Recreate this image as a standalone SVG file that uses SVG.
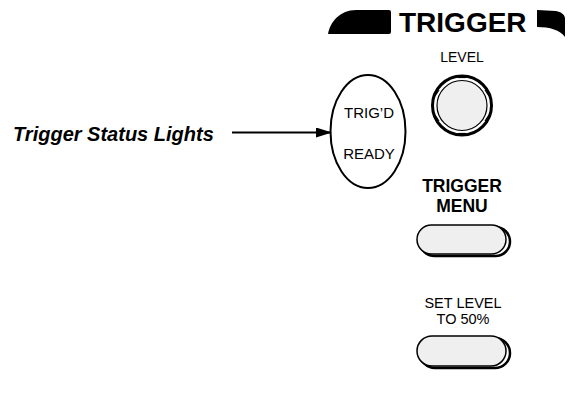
<svg xmlns="http://www.w3.org/2000/svg" width="568" height="396" viewBox="0 0 568 396">
<style>
.t{font-family:"Liberation Sans",Arial,sans-serif;fill:#000}
.b{font-weight:bold}
.btn{fill:#efefef;stroke:#000;stroke-width:1.5}
.sh{fill:none;stroke:#000;stroke-width:2.5}
</style>
<defs>
<marker id="ah" markerWidth="16" markerHeight="10" refX="15" refY="5" orient="auto" markerUnits="userSpaceOnUse">
<path d="M0,0 L16,5 L0,10 Z" fill="#000"/>
</marker>
</defs>
<rect width="568" height="396" fill="#fff"/>
<g id="header">
<path d="M328,34 C330,22 340,10 356,10 L389,10 Q391,10 391,12 L391,32 Q391,34 389,34 Z" fill="#000"/>
<text class="t b" x="399" y="32" font-size="28">TRIGGER</text>
<path d="M537,10 L556,11 C561,12 564,14 565,18 L565,37 C560,30 550,27 537,27 Z" fill="#000"/>
</g>
<g id="level-knob">
<text class="t" x="462" y="62" font-size="14" text-anchor="middle">LEVEL</text>
<circle cx="462" cy="105.5" r="29.5" fill="#fff" stroke="#000" stroke-width="3"/>
<circle cx="462" cy="105.5" r="25" fill="#efefef" stroke="#000" stroke-width="1.2"/>
<g stroke="#000" stroke-width="1.2">
<line x1="458" y1="77.5" x2="466" y2="77.5"/>
<line x1="458" y1="133.5" x2="466" y2="133.5"/>
<line x1="485" y1="90" x2="489" y2="96"/>
<line x1="485" y1="121" x2="489" y2="115"/>
<line x1="439" y1="90" x2="435" y2="96"/>
<line x1="439" y1="121" x2="435" y2="115"/>
</g>
</g>
<g id="status-lights">
<ellipse cx="368" cy="131.5" rx="37.5" ry="56.5" fill="#fff" stroke="#000" stroke-width="2"/>
<text class="t" x="369" y="118" font-size="15" text-anchor="middle">TRIG’D</text>
<text class="t" x="369" y="159" font-size="15" text-anchor="middle">READY</text>
</g>
<g id="label">
<text class="t b" x="13" y="141" font-size="20" font-style="italic">Trigger Status Lights</text>
</g>
<g id="trigger-menu">
<text class="t b" x="462" y="192" font-size="17.5" text-anchor="middle">TRIGGER</text>
<text class="t b" x="462" y="211.5" font-size="17.5" text-anchor="middle">MENU</text>
<rect class="sh" x="420" y="227" width="90" height="29" rx="14.5"/>
<rect class="btn" x="417" y="225" width="89" height="29" rx="14.5"/>
</g>
<g id="set-level">
<text class="t" x="463" y="307.5" font-size="14.5" text-anchor="middle">SET LEVEL</text>
<text class="t" x="463" y="323.5" font-size="14.5" text-anchor="middle">TO 50%</text>
<rect class="sh" x="420" y="338" width="90" height="30" rx="15"/>
<rect class="btn" x="417" y="336" width="89" height="30" rx="15"/>
</g>
<g id="connectors">
<line x1="232" y1="132.5" x2="331" y2="132.5" stroke="#000" stroke-width="2" marker-end="url(#ah)"/>
</g>
</svg>
